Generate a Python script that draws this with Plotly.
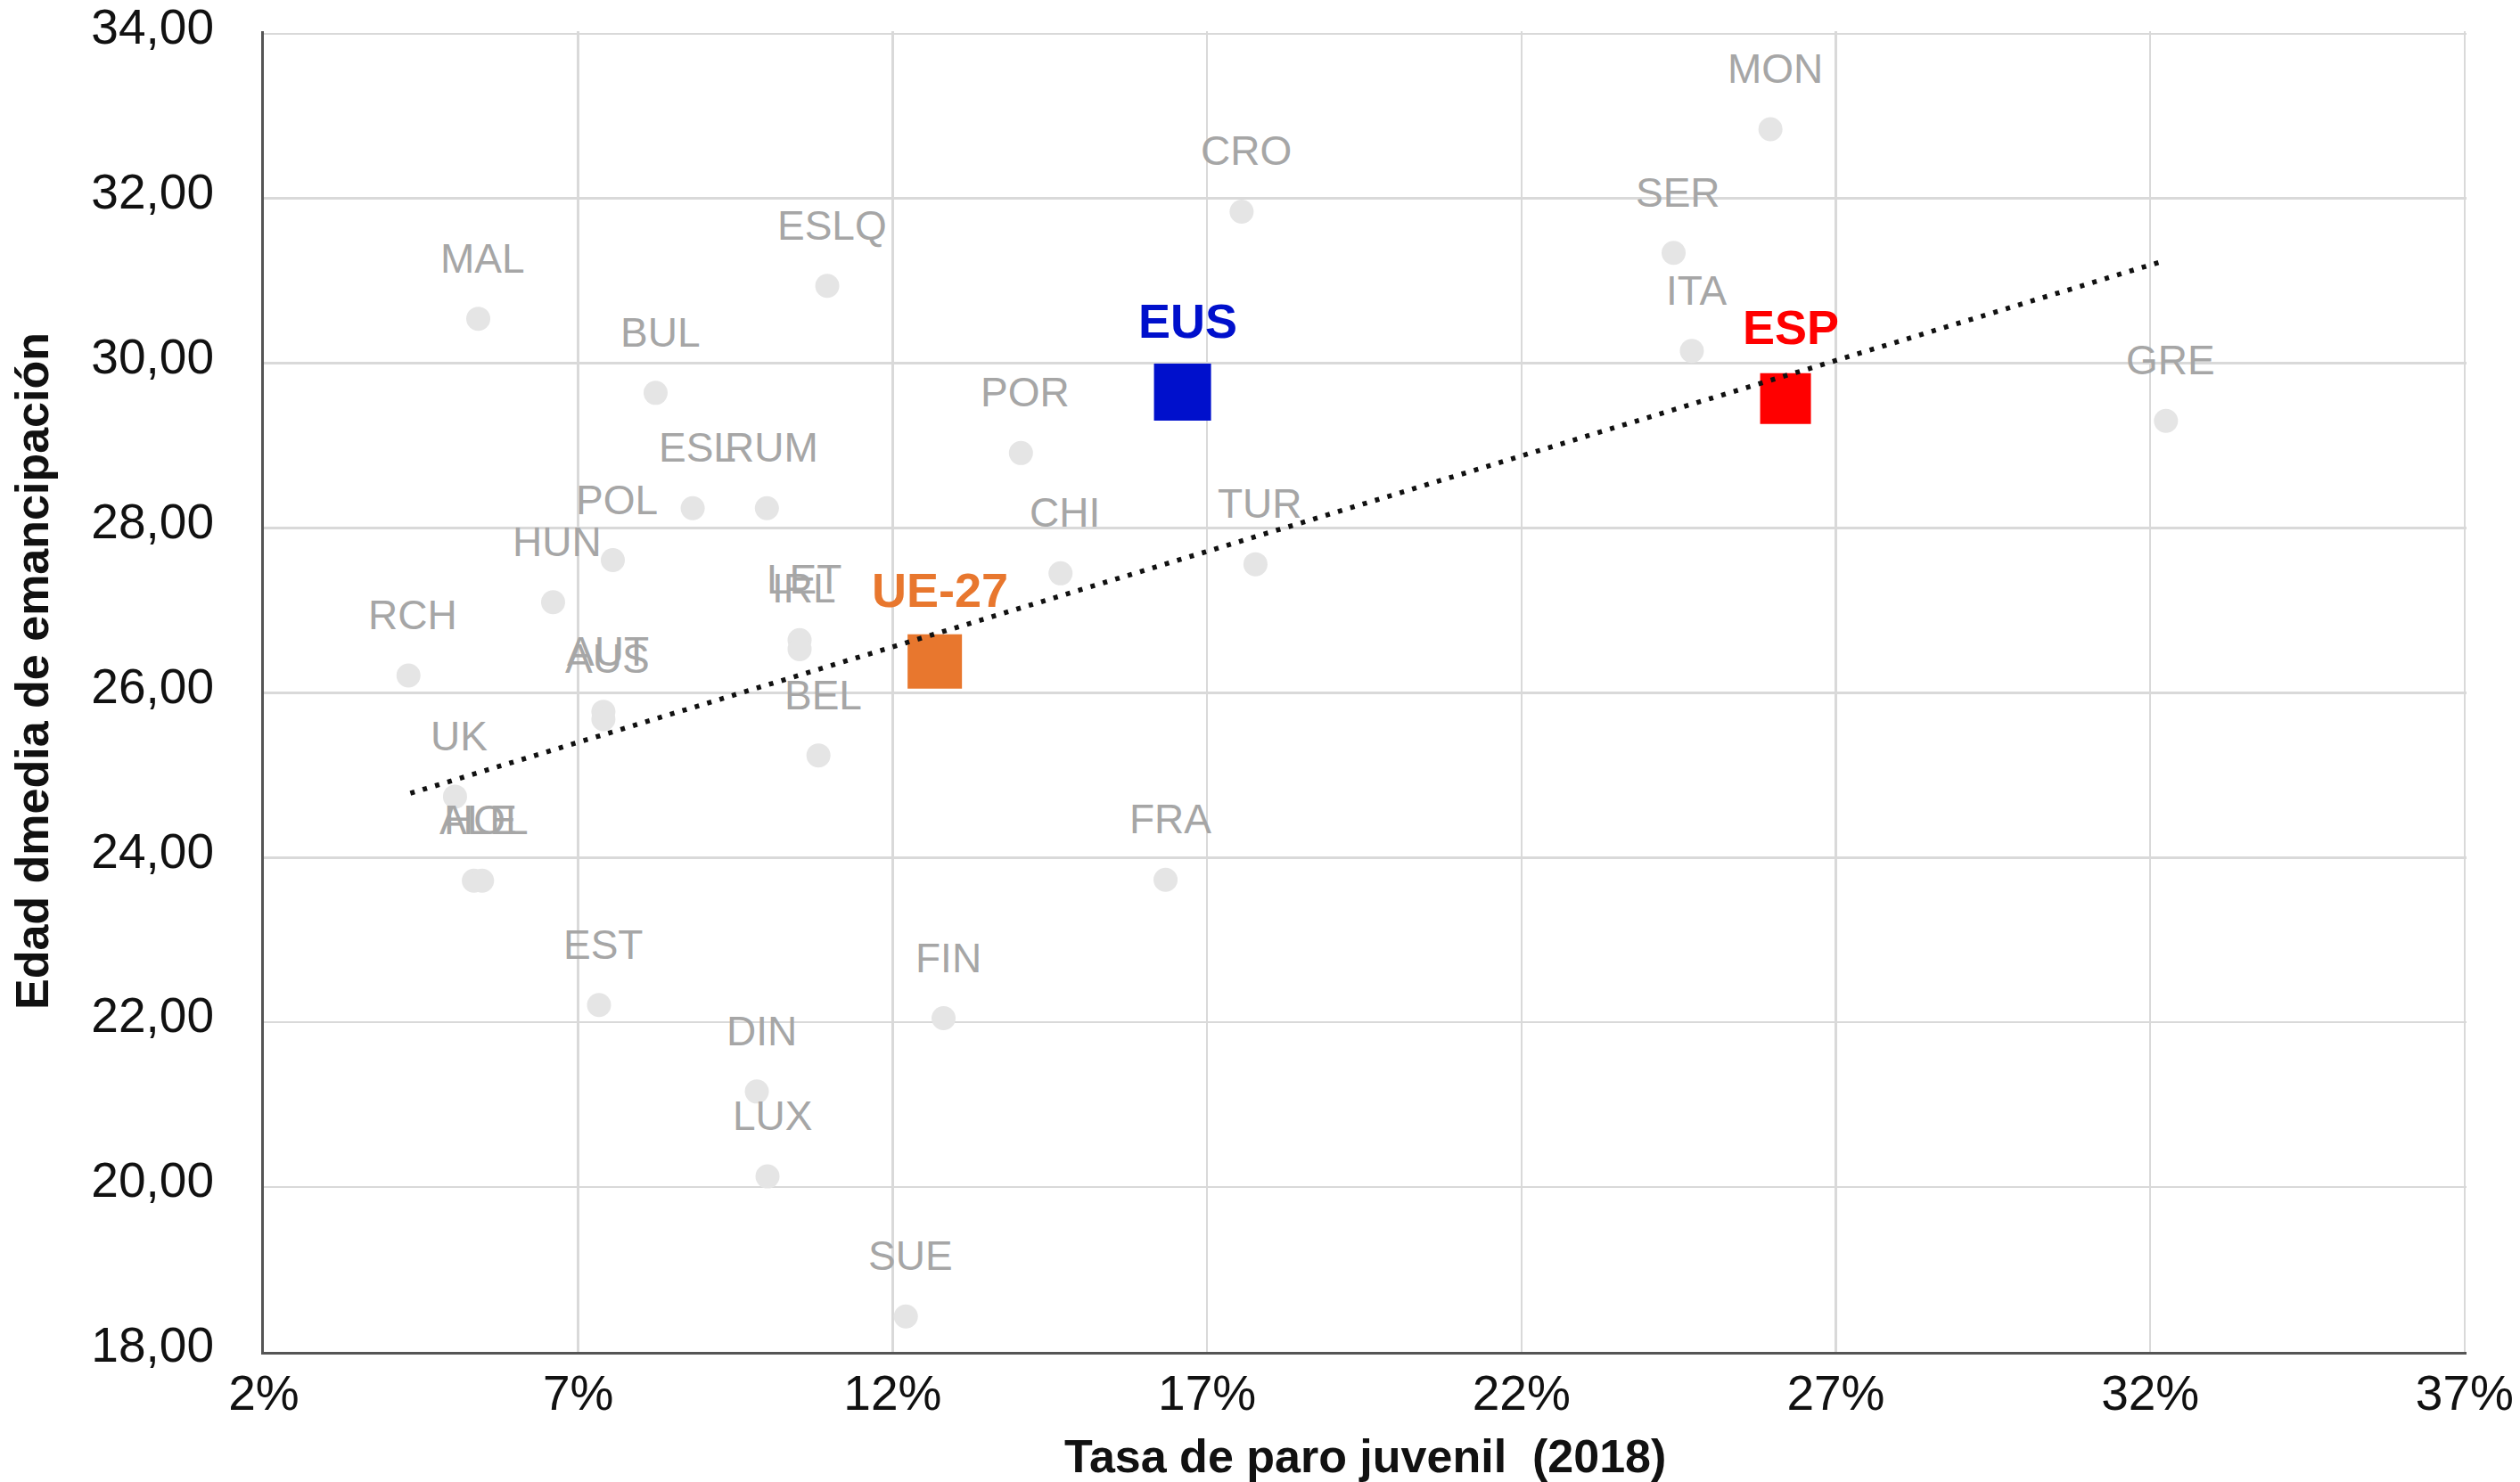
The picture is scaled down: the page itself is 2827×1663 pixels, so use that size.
import plotly.graph_objects as go

# ---- data ----
countries = ["MAL", "ESLQ", "BUL", "ESL", "RUM", "POL", "HUN", "RCH", "LET", "IRL",
             "AUT", "AUS", "BEL", "UK", "ALE", "HOL", "EST", "FIN", "DIN", "LUX",
             "SUE", "FRA", "POR", "CHI", "TUR", "CRO", "SER", "ITA", "MON", "GRE"]
paro = [5.41, 10.96, 8.23, 8.82, 10.00, 7.55, 6.60, 4.30, 10.52, 10.52,
        7.40, 7.40, 10.82, 5.04, 5.34, 5.47, 7.33, 12.81, 9.84, 10.01,
        12.21, 16.34, 14.04, 14.67, 17.77, 17.55, 24.42, 24.71, 25.96, 32.25]
edad = [30.54, 30.94, 29.64, 28.24, 28.24, 27.61, 27.10, 26.21, 26.64, 26.53,
        25.77, 25.68, 25.24, 24.74, 23.72, 23.72, 22.21, 22.05, 21.16, 20.13,
        18.43, 23.73, 28.91, 27.45, 27.56, 31.84, 31.34, 30.15, 32.84, 29.30]

hl_names = ["EUS", "ESP", "UE-27"]
hl_paro = [16.61, 26.20, 12.67]
hl_edad = [29.65, 29.57, 26.38]

trend_x = [4.33, 32.25]
trend_y = [24.78, 31.25]

x_title = "Tasa de paro juvenil  (2018)"
y_title = "Edad dmedia de emancipación"

# ---- styles ----
hl_colors = ["#0010cc", "#ff0000", "#e8772e"]
hl_sizes = [64, 57, 61]
FONT = "Liberation Sans, Arial, Helvetica, sans-serif"
GRAY_TXT = "#a6a6a6"

fig = go.Figure()

# gray country dots
fig.add_trace(go.Scatter(
    x=paro, y=edad, mode="markers",
    marker=dict(size=27, color="#e5e5e5", opacity=1, line=dict(width=0)),
    hoverinfo="skip", showlegend=False))

# highlighted squares
fig.add_trace(go.Scatter(
    x=hl_paro, y=hl_edad, mode="markers",
    marker=dict(size=hl_sizes, symbol="square", color=hl_colors, opacity=1,
                line=dict(width=0)),
    hoverinfo="skip", showlegend=False))

# dotted trend line
fig.add_trace(go.Scatter(
    x=trend_x, y=trend_y, mode="lines",
    line=dict(color="#111111", width=5.5, dash="5px,9.5px"),
    hoverinfo="skip", showlegend=False))

annotations = []
for name, xv, yv in zip(countries, paro, edad):
    annotations.append(dict(
        x=xv, y=yv, xref="x", yref="y", text=name, showarrow=False,
        xanchor="center", yanchor="bottom", xshift=5, yshift=40,
        font=dict(family=FONT, size=46, color=GRAY_TXT)))
for name, xv, yv, c in zip(hl_names, hl_paro, hl_edad, hl_colors):
    annotations.append(dict(
        x=xv, y=yv, xref="x", yref="y", text="<b>" + name + "</b>", showarrow=False,
        xanchor="center", yanchor="bottom", xshift=6, yshift=48,
        font=dict(family=FONT, size=54, color=c)))

# axis titles
annotations.append(dict(
    x=0.5, y=0, xref="paper", yref="paper", text="<b>" + x_title + "</b>",
    showarrow=False, xanchor="center", yanchor="middle", yshift=-117,
    font=dict(family=FONT, size=52, color="#111111")))
annotations.append(dict(
    x=0, y=0.5, xref="paper", yref="paper", text="<b>" + y_title + "</b>",
    showarrow=False, xanchor="center", yanchor="middle", xshift=-260, yshift=23,
    textangle=-90, font=dict(family=FONT, size=52, color="#111111")))

fig.update_layout(
    width=2827, height=1663,
    margin=dict(l=296, r=60, t=35, b=146, autoexpand=False),
    paper_bgcolor="white", plot_bgcolor="white",
    separators=",.",
    font=dict(family=FONT, size=55, color="#111111"),
    annotations=annotations,
    showlegend=False,
    hovermode=False,
)
fig.update_xaxes(
    range=[2, 37.03], tick0=2, dtick=5, ticksuffix="%",
    showgrid=True, gridcolor="#d9d9d9", gridwidth=2.5,
    showline=True, linecolor="#555555", linewidth=3,
    zeroline=False, ticks="", ticklabelstandoff=-4,
    ticklabeloverflow="allow", automargin=False,
    tickfont=dict(family=FONT, size=55, color="#111111"))
fig.update_yaxes(
    range=[18, 34.03], tick0=18, dtick=2, tickformat=".2f",
    showgrid=True, gridcolor="#d9d9d9", gridwidth=2.5,
    showline=True, linecolor="#555555", linewidth=3,
    zeroline=False, ticks="", ticklabelstandoff=42, ticklabelshift=-8,
    ticklabeloverflow="allow", automargin=False,
    tickfont=dict(family=FONT, size=55, color="#111111"))

fig.write_html(
    "out.html",
    config={"displayModeBar": False, "staticPlot": True},
    post_script="document.body.style.margin='0';document.body.style.overflow='hidden';")
